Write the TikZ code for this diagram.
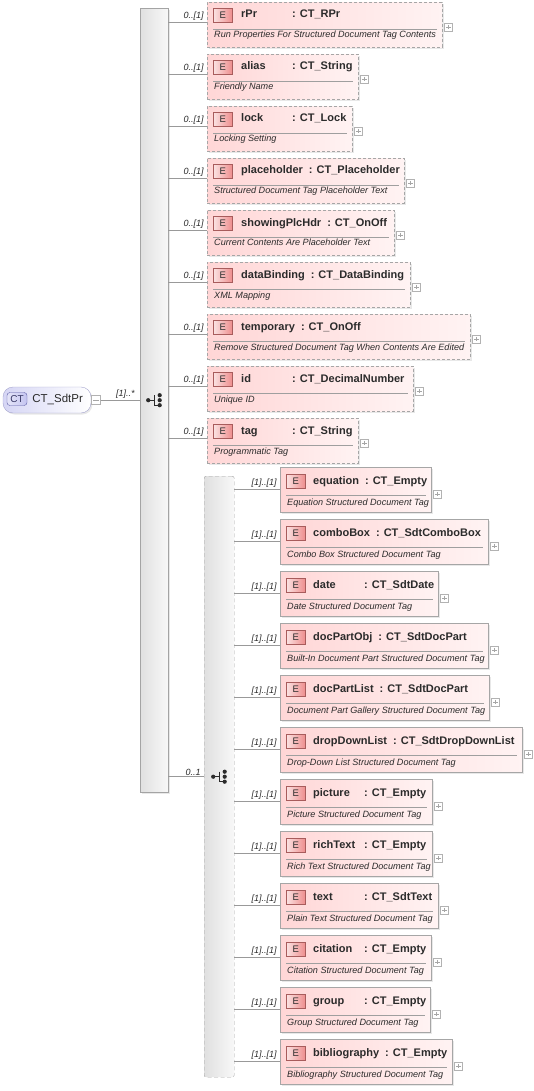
\documentclass[tikz,border=0pt]{standalone}
\usepackage{fontspec}
\setmainfont{Liberation Sans}
\usepackage{tikz}
\usetikzlibrary{positioning, calc, shadows}

\definecolor{ElPink}{HTML}{FFD6D6}
\definecolor{ElPale}{HTML}{FFF3F3}
\definecolor{ElLine}{HTML}{A6A6A6}
\definecolor{BadgeRed}{HTML}{EE8E8E}
\definecolor{BadgeEdge}{HTML}{A85C5C}
\definecolor{CtBlue}{HTML}{C4C4F0}
\definecolor{CtEdge}{HTML}{5C5CA6}
\definecolor{BarDark}{HTML}{E0E0E0}
\definecolor{BarLight}{HTML}{F8F8F8}
\definecolor{BarEdge}{HTML}{A4A4A4}
\definecolor{InkGray}{HTML}{2B2B2B}

\newsavebox{\namebox}
\newcommand{\elhead}[2]{\sbox{\namebox}{\textbf{#1}}%
  \ifdim\wd\namebox<45pt\makebox[45pt][l]{\usebox{\namebox}}\else\usebox{\namebox}\fi
  \hspace{6pt}\textbf{: #2}}

\newcommand{\groupicon}[1]{%
  \begin{scope}[shift={(#1)}]
    \draw[InkGray, line width=1pt] (-6,0) -- (0,0) (0,-5) -- (0,5) -- (5,5);
    \fill[InkGray] (-6,0) circle (2.1pt);
    \foreach \dy in {-5,0,5} \fill[InkGray] (5.5,\dy) circle (2.1pt);
  \end{scope}}

\tikzset{
  elbox/.style={draw=ElLine, left color=ElPink, right color=ElPale,
    minimum height=45pt, anchor=north west, inner sep=0pt,
    drop shadow={shadow xshift=1.5pt, shadow yshift=-1.5pt, opacity=0.18}},
  optbox/.style={elbox, dashed, dash pattern=on 3pt off 2pt},
  ebadge/.style={draw=BadgeEdge, left color=BadgeRed!25, right color=BadgeRed,
    minimum width=19pt, minimum height=14pt, inner sep=0pt, anchor=north west,
    font=\fontsize{9.5}{10}\selectfont, text=InkGray},
  elname/.style={anchor=base west, inner sep=0pt, text=InkGray,
    font=\fontsize{11}{13}\selectfont},
  eldesc/.style={anchor=base west, inner sep=0pt, text=InkGray,
    font=\fontsize{9.1}{10}\selectfont\itshape},
  sepline/.style={draw=gray!75, line width=0.5pt},
  plusbox/.style={draw=gray!60, fill=white, minimum size=8pt, inner sep=0pt,
    path picture={\draw[gray!70, line width=0.5pt]
      ([xshift=1.8pt]path picture bounding box.west) -- ([xshift=-1.8pt]path picture bounding box.east)
      ([yshift=-1.8pt]path picture bounding box.north) -- ([yshift=1.8pt]path picture bounding box.south);}},
  minusbox/.style={draw=gray!60, fill=white, minimum size=9pt, inner sep=0pt,
    path picture={\draw[gray!70, line width=0.5pt]
      ([xshift=1.8pt]path picture bounding box.west) -- ([xshift=-1.8pt]path picture bounding box.east);}},
  rootbox/.style={draw=CtEdge!55, left color=CtBlue!70, right color=white,
    rounded corners=10pt, minimum width=88pt, minimum height=26pt, inner sep=0pt,
    drop shadow={shadow xshift=1.5pt, shadow yshift=-1.5pt, opacity=0.18}},
  ctbadge/.style={draw=CtEdge, left color=CtBlue!45, right color=CtBlue,
    rounded corners=3pt, minimum width=20pt, minimum height=13pt, inner sep=0pt,
    font=\fontsize{10}{11}\selectfont, text=CtEdge!60!black},
  rootname/.style={inner sep=0pt, text=InkGray, font=\fontsize{11.5}{13}\selectfont},
  seqbar/.style={draw=BarEdge, left color=BarDark, right color=BarLight,
    anchor=north west, minimum width=28pt, minimum height=784pt, inner sep=0pt,
    drop shadow={shadow xshift=1.5pt, shadow yshift=-1.5pt, opacity=0.18}},
  chbar/.style={draw=BarEdge, dashed, dash pattern=on 4pt off 2.5pt,
    left color=BarDark, right color=BarLight, rounded corners=2pt,
    anchor=north west, minimum width=30pt, minimum height=601pt, inner sep=0pt},
  conn/.style={draw=gray!80, line width=0.6pt},
  mult/.style={font=\fontsize{9}{10}\selectfont\itshape, text=InkGray,
    inner sep=1pt, anchor=south east, xshift=-2pt}
}

\begin{document}
\begin{tikzpicture}[x=1pt, y=-1pt]
\useasboundingbox (0,0) rectangle (533,1091);

% root complex type
\node[rootbox] (root) at (47,400) {};
\node[ctbadge] (rootct) at (17,399) {CT};
\node[rootname, right=5pt of rootct] (rootname) {CT\_SdtPr};
\node[minusbox] (rootminus) at (96,400) {};

% compositors
\node[seqbar] (seq) at (140,8) {};
\node[chbar] (ch) at (204,476) {};
\groupicon{seq.center}
\groupicon{ch.center}

\draw[conn] (rootminus.east) -- (seq.west |- rootminus.east)
  node[mult, pos=1, xshift=-2pt] {[1]..*};
\draw[conn] (seq.east |- ch.west) -- (ch.west) node[mult, pos=1] {0..1};

% optional elements of the sequence
\foreach \nm/\ty/\bw/\ds [count=\i from 0] in {
  rPr/{CT\_RPr}/235/{Run Properties For Structured Document Tag Contents},
  alias/{CT\_String}/151/{Friendly Name},
  lock/{CT\_Lock}/145/{Locking Setting},
  placeholder/{CT\_Placeholder}/197/{Structured Document Tag Placeholder Text},
  showingPlcHdr/{CT\_OnOff}/187/{Current Contents Are Placeholder Text},
  dataBinding/{CT\_DataBinding}/203/{XML Mapping},
  temporary/{CT\_OnOff}/263/{Remove Structured Document Tag When Contents Are Edited},
  id/{CT\_DecimalNumber}/206/{Unique ID},
  tag/{CT\_String}/151/{Programmatic Tag}} {
  \pgfmathsetmacro{\tp}{2+52*\i}
  \node[optbox, minimum width=\bw] (el-\nm) at (207,\tp) {};
  \node[ebadge] (el-\nm-e) at ($(el-\nm.north west)+(6,6)$) {E};
  \node[elname] (el-\nm-name) at ($(el-\nm.north west)+(34,16)$) {\elhead{\nm}{\ty}};
  \draw[sepline] ($(el-\nm.north west)+(6,27)$) -- ($(el-\nm.north east)+(-5,27)$);
  \node[eldesc] (el-\nm-desc) at ($(el-\nm.north west)+(7,36)$) {\ds};
  \node[plusbox] (el-\nm-plus) at ($(el-\nm.north east)+(6,25)$) {};
  \coordinate (el-\nm-in) at (207,\tp+20);
  \draw[conn] (seq.east |- el-\nm-in) -- (el-\nm-in) node[mult, pos=1] {0..[1]};
}

% choice elements
\foreach \nm/\ty/\bw/\ds [count=\i from 0] in {
  equation/{CT\_Empty}/151/{Equation Structured Document Tag},
  comboBox/{CT\_SdtComboBox}/208/{Combo Box Structured Document Tag},
  date/{CT\_SdtDate}/158/{Date Structured Document Tag},
  docPartObj/{CT\_SdtDocPart}/208/{Built-In Document Part Structured Document Tag},
  docPartList/{CT\_SdtDocPart}/209/{Document Part Gallery Structured Document Tag},
  dropDownList/{CT\_SdtDropDownList}/242/{Drop-Down List Structured Document Tag},
  picture/{CT\_Empty}/152/{Picture Structured Document Tag},
  richText/{CT\_Empty}/152/{Rich Text Structured Document Tag},
  text/{CT\_SdtText}/158/{Plain Text Structured Document Tag},
  citation/{CT\_Empty}/151/{Citation Structured Document Tag},
  group/{CT\_Empty}/150/{Group Structured Document Tag},
  bibliography/{CT\_Empty}/172/{Bibliography Structured Document Tag}} {
  \pgfmathsetmacro{\tp}{467+52*\i}
  \node[elbox, minimum width=\bw] (el-\nm) at (280,\tp) {};
  \node[ebadge] (el-\nm-e) at ($(el-\nm.north west)+(6,7)$) {E};
  \node[elname] (el-\nm-name) at ($(el-\nm.north west)+(33,17)$) {\elhead{\nm}{\ty}};
  \draw[sepline] ($(el-\nm.north west)+(6,28)$) -- ($(el-\nm.north east)+(-5,28)$);
  \node[eldesc] (el-\nm-desc) at ($(el-\nm.north west)+(7,38)$) {\ds};
  \node[plusbox] (el-\nm-plus) at ($(el-\nm.north east)+(6,27)$) {};
  \coordinate (el-\nm-in) at (280,\tp+22);
  \draw[conn] (ch.east |- el-\nm-in) -- (el-\nm-in) node[mult, pos=1] {[1]..[1]};
}
\end{tikzpicture}
\end{document}
